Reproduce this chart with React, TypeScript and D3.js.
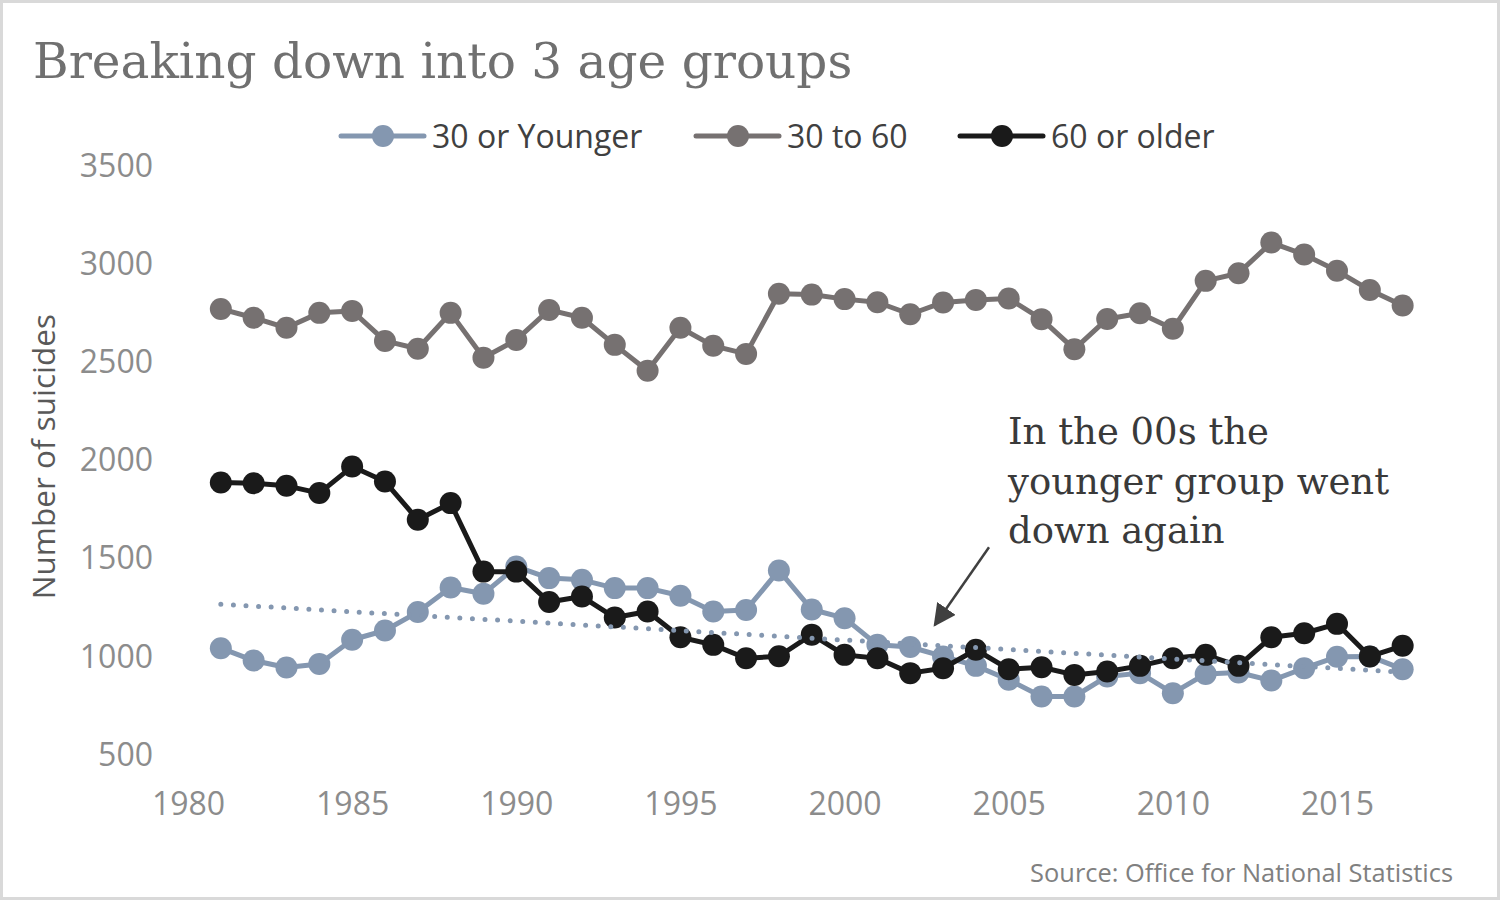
import { useEffect, useRef } from "react";
import * as d3 from "d3";

const YEARS = d3.range(1981, 2018);

// 30 or Younger
const YOUNG = [
  1044, 981, 946, 964, 1087, 1134, 1228, 1353, 1321, 1460,
  1401, 1392, 1350, 1350, 1311, 1231, 1239, 1440, 1241, 1197,
  1061, 1050, 1002, 954, 883, 798, 798, 900, 917, 815,
  913, 920, 879, 942, 1000, 1002, 937,
];

// 30 to 60
const MIDDLE = [
  2772, 2727, 2676, 2752, 2762, 2609, 2569, 2752, 2523, 2614,
  2767, 2727, 2589, 2457, 2676, 2584, 2543, 2849, 2845, 2822,
  2806, 2745, 2805, 2818, 2825, 2720, 2567, 2721, 2750, 2671,
  2915, 2954, 3110, 3049, 2966, 2868, 2789,
];

// 60 or older
const OLD = [
  1888, 1884, 1871, 1834, 1969, 1893, 1698, 1783, 1434, 1434,
  1279, 1307, 1200, 1231, 1100, 1061, 993, 1003, 1113, 1010,
  993, 917, 942, 1036, 937, 947, 908, 925, 954, 993,
  1010, 954, 1100, 1120, 1168, 1002, 1056,
];

// linear trend of the younger group (end points)
const TREND_YEARS = [1981, 2017];
const TREND_VALUES = [1268, 922];

const X_TICKS = [1980, 1985, 1990, 1995, 2000, 2005, 2010, 2015];
const Y_TICKS = [500, 1000, 1500, 2000, 2500, 3000, 3500];

const SERIES = [
  { name: "30 to 60", values: MIDDLE, color: "#767171" },
  { name: "30 or Younger", values: YOUNG, color: "#8497b0" },
  { name: "60 or older", values: OLD, color: "#1a1a1a" },
];

const LEGEND = [
  { name: "30 or Younger", color: "#8497b0", x: 341 },
  { name: "30 to 60", color: "#767171", x: 696 },
  { name: "60 or older", color: "#1a1a1a", x: 960 },
];

const NOTE_LINES = ["In the 00s the", "younger group went", "down again"];

export default function App() {
  const svgRef = useRef<SVGSVGElement | null>(null);

  useEffect(() => {
    if (!svgRef.current) return;
    const W = 1500, H = 900;
    const svg = d3.select(svgRef.current);
    svg.selectAll("*").remove();
    svg.attr("width", W).attr("height", H).attr("viewBox", `0 0 ${W} ${H}`);

    const sans = "'Open Sans', 'Noto Sans', sans-serif";
    const serif = "'DejaVu Serif', 'Liberation Serif', serif";

    svg.append("rect").attr("x", 1.5).attr("y", 1.5).attr("width", W - 3).attr("height", H - 3)
      .attr("fill", "#fff").attr("stroke", "#d9d9d9").attr("stroke-width", 3);

    const x = d3.scaleLinear().domain([1980, 2015]).range([188, 1337]);
    const y = d3.scaleLinear().domain([500, 3500]).range([755, 166]);

    // title
    svg.append("text").attr("x", 33).attr("y", 78)
      .attr("font-family", serif).attr("font-size", 48.5).attr("fill", "#707070")
      .text("Breaking down into 3 age groups");

    // axes (labels only)
    const yAxis = svg.append("g").attr("transform", "translate(153,0)")
      .call(d3.axisLeft(y).tickValues(Y_TICKS).tickSize(0).tickPadding(0).tickFormat(d3.format("d")));
    const xAxis = svg.append("g").attr("transform", "translate(0,792)")
      .call(d3.axisBottom(x).tickValues(X_TICKS).tickSize(0).tickPadding(0).tickFormat(d3.format("d")));
    for (const ax of [yAxis, xAxis]) {
      ax.select(".domain").remove();
      ax.selectAll("text").attr("font-family", sans).attr("font-size", 32).attr("fill", "#8c8c8c");
    }

    svg.append("text").attr("transform", `translate(55,${y(2020)}) rotate(-90)`)
      .attr("text-anchor", "middle").attr("font-family", sans).attr("font-size", 31.5)
      .attr("fill", "#595959").text("Number of suicides");

    // series
    const line = d3.line<[number, number]>().x((d) => x(d[0])).y((d) => y(d[1]));
    for (const s of SERIES) {
      const pts: [number, number][] = YEARS.map((yr, i) => [yr, s.values[i]]);
      const g = svg.append("g");
      g.append("path").datum(pts).attr("d", line).attr("fill", "none")
        .attr("stroke", s.color).attr("stroke-width", 5).attr("stroke-linejoin", "round");
      g.selectAll("circle").data(pts).join("circle")
        .attr("cx", (d) => x(d[0])).attr("cy", (d) => y(d[1])).attr("r", 11)
        .attr("fill", s.color);
    }

    // trend line
    const trendPts: [number, number][] = TREND_YEARS.map((yr, i) => [yr, TREND_VALUES[i]]);
    svg.append("path").datum(trendPts).attr("d", line).attr("fill", "none")
      .attr("stroke", "#8497b0").attr("stroke-width", 5).attr("stroke-linecap", "round")
      .attr("stroke-dasharray", "0 12.6");

    // legend
    for (const l of LEGEND) {
      const g = svg.append("g").attr("transform", `translate(${l.x},136)`);
      g.append("line").attr("x1", 0).attr("x2", 83).attr("stroke", l.color)
        .attr("stroke-width", 5).attr("stroke-linecap", "round");
      g.append("circle").attr("cx", 42).attr("r", 11).attr("fill", l.color);
      g.append("text").attr("x", 91).attr("dy", "0.36em")
        .attr("font-family", sans).attr("font-size", 32).attr("fill", "#404040").text(l.name);
    }

    // annotation
    const note = svg.append("text").attr("font-family", serif).attr("font-size", 37).attr("fill", "#3a3a3a");
    NOTE_LINES.forEach((t, i) => {
      note.append("tspan").attr("x", 1008).attr("y", 444 + i * 49.5).text(t);
    });

    const defs = svg.append("defs");
    defs.append("marker").attr("id", "arrow").attr("viewBox", "0 0 10 10")
      .attr("refX", 9).attr("refY", 5).attr("markerWidth", 9).attr("markerHeight", 9)
      .attr("markerUnits", "strokeWidth").attr("orient", "auto")
      .append("path").attr("d", "M0,0 L10,5 L0,10 Z").attr("fill", "#404040");
    svg.append("line")
      .attr("x1", x(2004.4)).attr("y1", y(1558))
      .attr("x2", x(2002.75)).attr("y2", y(1162))
      .attr("stroke", "#404040").attr("stroke-width", 2.5).attr("marker-end", "url(#arrow)");

    // source
    svg.append("text").attr("x", 1453).attr("y", 882).attr("text-anchor", "end")
      .attr("font-family", sans).attr("font-size", 25.4).attr("fill", "#808080")
      .text("Source: Office for National Statistics");
  }, []);

  return <svg ref={svgRef} style={{ position: "fixed", left: 0, top: 0, display: "block" }} />;
}
